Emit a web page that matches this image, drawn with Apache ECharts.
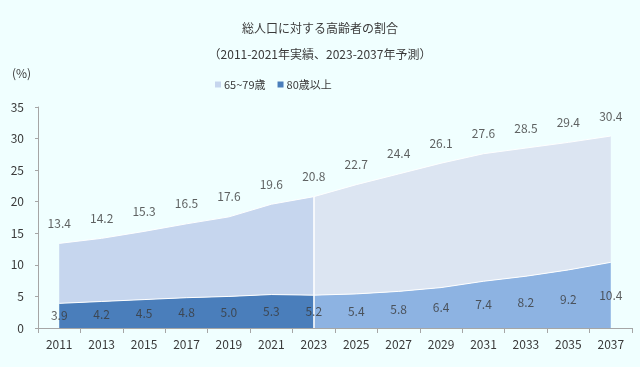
<!DOCTYPE html>
<html><head><meta charset="utf-8">
<script src="https://cdn.jsdelivr.net/npm/echarts@6/dist/echarts.min.js"></script>
<style>html,body{margin:0;padding:0;background:#f0ffff;}#c{width:640px;height:367px;}</style>
</head><body><div id="c"></div>
<script>
const years = ['2011','2013','2015','2017','2019','2021','2023','2025','2027','2029','2031','2033','2035','2037'];
const totalShare = [13.4,14.2,15.3,16.5,17.6,19.6,20.8,22.7,24.4,26.1,27.6,28.5,29.4,30.4];
const over80 = [3.9,4.2,4.5,4.8,5.0,5.3,5.2,5.4,5.8,6.4,7.4,8.2,9.2,10.4];
const splitIndex = 6; // 2023: last actual, first projection
const yTicks = [0,5,10,15,20,25,30,35];

const age65to79 = totalShare.map((t,i)=>+(t-over80[i]).toFixed(1));
const histPart = arr => arr.map((v,i)=> i<=splitIndex ? v : '-');
const projPart = arr => arr.map((v,i)=> i>=splitIndex ? v : '-');
const font = "'Noto Sans CJK JP', sans-serif";
const txt = '#3a3a3a';

const chart = echarts.init(document.getElementById('c'));
chart.setOption({
  backgroundColor:'#f0ffff',
  animation:false,
  textStyle:{fontFamily:font},
  title:[
    {text:'総人口に対する高齢者の割合',left:'center',top:17,textStyle:{fontSize:12,fontWeight:'normal',color:txt,fontFamily:font}},
    {text:'（2011-2021年実績、2023-2037年予測）',left:'center',top:43,textStyle:{fontSize:12,fontWeight:'normal',color:txt,fontFamily:font}},
    {text:'(%)',left:7,top:62,textStyle:{fontSize:12,fontWeight:'normal',color:txt,fontFamily:font}}
  ],
  legend:{left:210,top:74,itemWidth:6,itemHeight:6,itemGap:12,icon:'rect',
    textStyle:{fontSize:11,color:txt,fontFamily:font,padding:[0,0,0,-2]},
    data:['65~79歳','80歳以上']},
  grid:{left:38,right:8,top:107,bottom:39},
  xAxis:{type:'category',data:years,boundaryGap:true,
    axisLine:{lineStyle:{color:'#a6a6a6'}},
    axisTick:{show:true,length:5,alignWithLabel:false,lineStyle:{color:'#a6a6a6'}},
    axisLabel:{color:txt,fontSize:12,margin:10,fontFamily:font}},
  yAxis:{type:'value',min:0,max:35,interval:5,
    axisLine:{show:true,lineStyle:{color:'#a6a6a6'}},
    axisTick:{show:true,length:3,lineStyle:{color:'#a6a6a6'}},
    splitLine:{show:false},
    axisLabel:{color:txt,fontSize:12,margin:14,fontFamily:font,
      formatter:v=>yTicks.includes(v)?String(v):''}},
  series:[
    {name:'80歳以上',type:'line',stack:'hist',data:histPart(over80),symbol:'none',
      lineStyle:{color:'#ffffff',width:1},itemStyle:{color:'#4a7ebb'},
      areaStyle:{color:'#4a7ebb',opacity:1},z:2},
    {name:'65~79歳',type:'line',stack:'hist',data:histPart(age65to79),symbol:'none',
      lineStyle:{color:'#ffffff',width:1},itemStyle:{color:'#c6d6ee'},
      areaStyle:{color:'#c6d6ee',opacity:1},z:2},
    {name:'80歳以上p',type:'line',stack:'proj',data:projPart(over80),symbol:'none',
      lineStyle:{color:'#ffffff',width:1},itemStyle:{color:'#8db3e2'},
      areaStyle:{color:'#8db3e2',opacity:1},z:2,
      markLine:{silent:true,symbol:'none',label:{show:false},
        lineStyle:{color:'#ffffff',width:1.5,type:'solid'},
        data:[[{coord:[years[splitIndex],0]},{coord:[years[splitIndex],totalShare[splitIndex]]}]]}},
    {name:'65~79歳p',type:'line',stack:'proj',data:projPart(age65to79),symbol:'none',
      lineStyle:{color:'#ffffff',width:1},itemStyle:{color:'#dce5f2'},
      areaStyle:{color:'#dce5f2',opacity:1},z:2},
    {name:'lblTotal',type:'scatter',data:totalShare,symbolSize:0,z:5,silent:true,
      label:{show:true,position:'top',distance:14,color:txt,fontSize:12,fontFamily:font,
        formatter:p=>totalShare[p.dataIndex].toFixed(1)}},
    {name:'lbl80',type:'scatter',data:over80.map(v=>v/2),symbolSize:0,z:5,silent:true,
      label:{show:true,position:'inside',color:txt,fontSize:12,fontFamily:font,
        formatter:p=>over80[p.dataIndex].toFixed(1)}}
  ]
});
</script></body></html>
